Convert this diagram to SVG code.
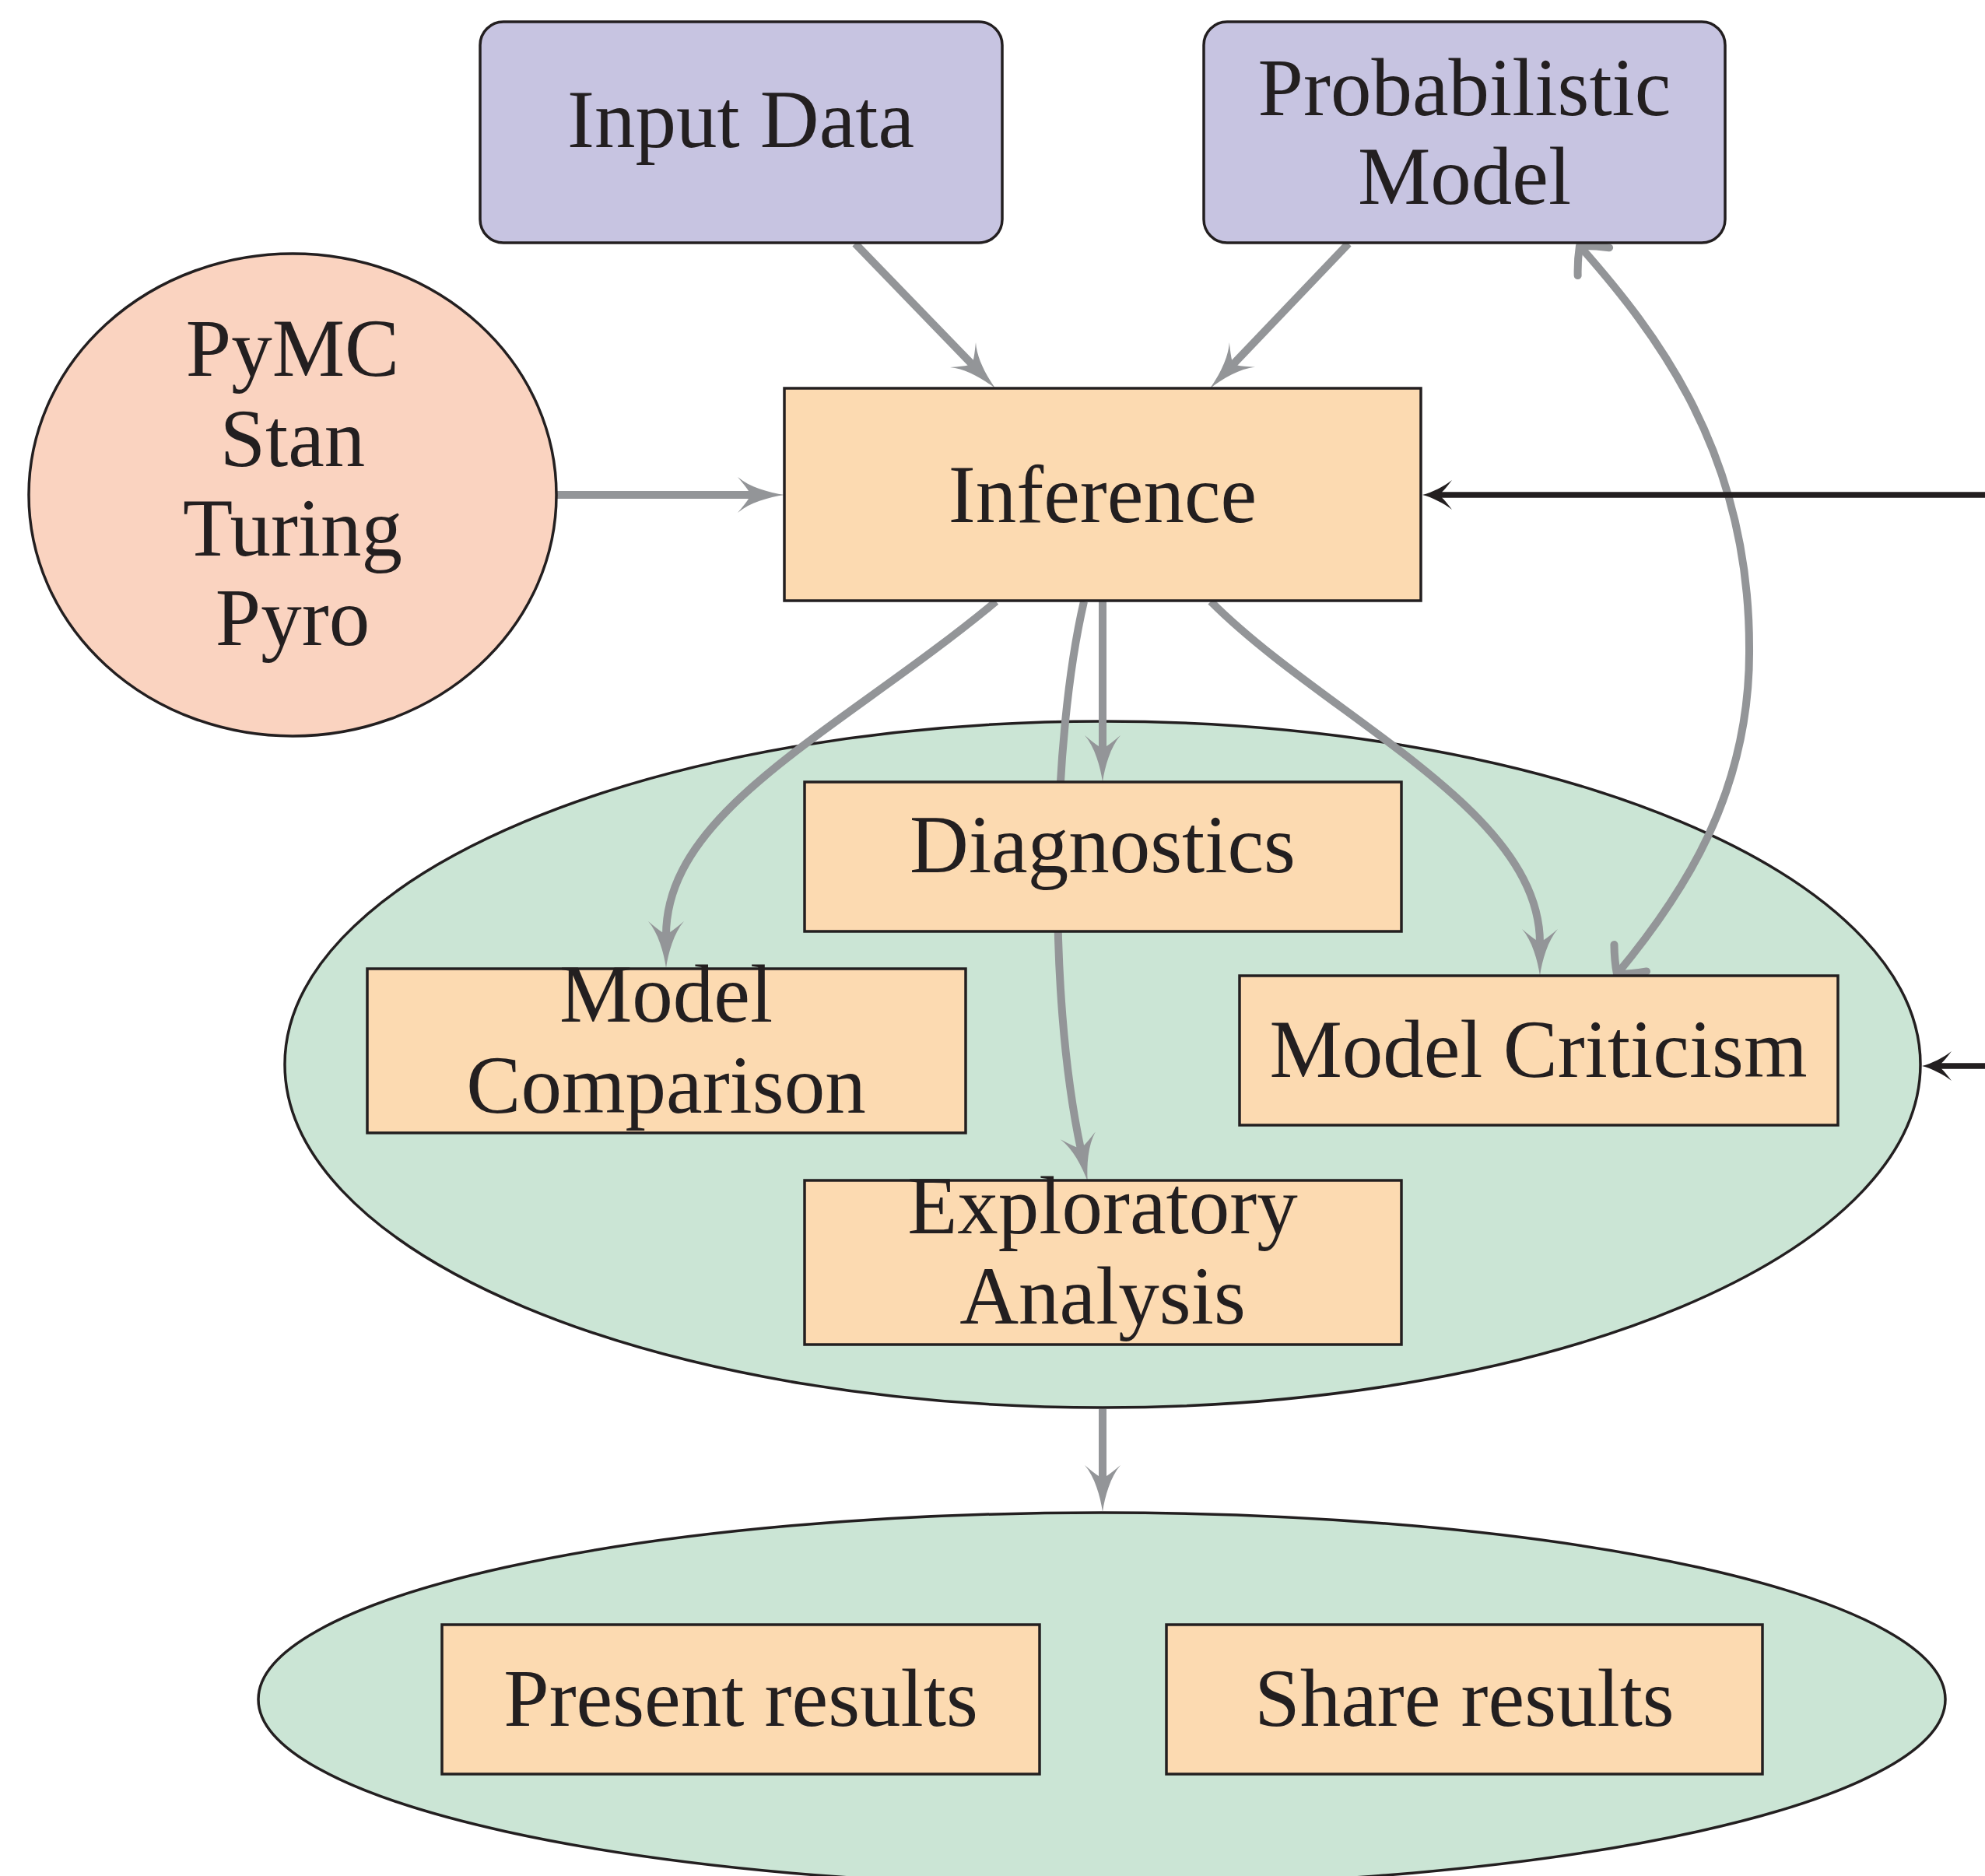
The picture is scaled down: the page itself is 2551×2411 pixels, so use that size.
<svg xmlns="http://www.w3.org/2000/svg" width="2551" height="2411" viewBox="0 0 2551 2411">
  <style>
    .lbl { font-family: "Liberation Serif", "Times New Roman", serif; font-size: 105px; fill: #231f20; text-anchor: middle; }
    .model { fill: #c7c4e1; stroke: #231f20; stroke-width: 3.5; }
    .step { fill: #fcdab1; stroke: #231f20; stroke-width: 3.5; }
    .tool { fill: #fad3c0; stroke: #231f20; stroke-width: 3.5; }
    .stage { fill: #cbe5d5; stroke: #231f20; stroke-width: 3.5; }
    .flow { fill: none; stroke: #939598; stroke-width: 10; }
    .ext { fill: none; stroke: #231f20; stroke-width: 7.5; }
  </style>
  <defs>
    <!-- grey barbed arrow tip; path end sits 42px behind the tip -->
    <marker id="tipGrey" markerUnits="userSpaceOnUse" markerWidth="70" markerHeight="50" refX="-42" refY="0" orient="auto" overflow="visible">
      <path d="M0,0 C-20,-3 -45,-10 -60,-23 Q-49,-10 -46,-5 L-46,5 Q-49,10 -60,23 C-45,10 -20,3 0,0 Z" fill="#939598"/>
    </marker>
    <!-- black arrow tip for the incoming feedback lines -->
    <marker id="tipBlack" markerUnits="userSpaceOnUse" markerWidth="45" markerHeight="40" refX="-22" refY="0" orient="auto" overflow="visible">
      <path d="M0,0 C-12,-3 -28,-11 -38,-19 Q-29,-7 -25,-3.5 L-25,3.5 Q-29,7 -38,19 C-28,11 -12,3 0,0 Z" fill="#231f20"/>
    </marker>
    <!-- open hook-style tip used at both ends of the criticism loop -->
    <marker id="tipHook" markerUnits="userSpaceOnUse" markerWidth="40" markerHeight="60" refX="0" refY="0" orient="auto-start-reverse" overflow="visible">
      <path d="M-27,-27 C-14,-16 -5,-6 0,0 C-5,6 -14,16 -27,27" fill="none" stroke="#939598" stroke-width="10" stroke-linecap="round" stroke-linejoin="round"/>
    </marker>
  </defs>

  <!-- stage containers -->
  <g id="analysis-stage">
    <ellipse class="stage" cx="1417" cy="1368" rx="1051" ry="441"/>
  </g>
  <g id="results-stage">
    <ellipse class="stage" cx="1416" cy="2184" rx="1084" ry="240"/>
  </g>

  <!-- connectors -->
  <g id="connectors">
    <path class="flow" d="M716 636 L966 636" marker-end="url(#tipGrey)"/>
    <path class="flow" d="M1099 313 L1250 469" marker-end="url(#tipGrey)"/>
    <path class="flow" d="M1733 313 L1584 469" marker-end="url(#tipGrey)"/>
    <path class="flow" d="M1280 773 C1080 939 856 1040 856 1202" marker-end="url(#tipGrey)"/>
    <path class="flow" d="M1393 773 C1352 950 1345 1270 1389 1477" marker-end="url(#tipGrey)"/>
    <path class="flow" d="M1417 773 L1417 963" marker-end="url(#tipGrey)"/>
    <path class="flow" d="M1556 773 C1706 923 1979 1040 1979 1212" marker-end="url(#tipGrey)"/>
    <path class="flow" d="M1417 1811 L1417 1901" marker-end="url(#tipGrey)"/>
    <path class="flow" d="M2030 316 C2129 428 2248 582 2248 832 C2250 1020 2161 1152 2078 1252" marker-start="url(#tipHook)" marker-end="url(#tipHook)"/>
    <path class="ext" d="M2551 636 L1850 636" marker-end="url(#tipBlack)"/>
    <path class="ext" d="M2551 1370 L2492 1370" marker-end="url(#tipBlack)"/>
  </g>

  <!-- nodes -->
  <g id="input-data">
    <rect class="model" x="617" y="28" width="671" height="284" rx="30"/>
    <text class="lbl" x="952" y="189">Input Data</text>
  </g>
  <g id="probabilistic-model">
    <rect class="model" x="1547" y="28" width="670" height="284" rx="30"/>
    <text class="lbl" x="1882" y="148">Probabilistic</text>
    <text class="lbl" x="1882" y="262">Model</text>
  </g>
  <g id="ppl-tools">
    <ellipse class="tool" cx="376" cy="636" rx="339" ry="310"/>
    <text class="lbl" x="376" y="483">PyMC</text>
    <text class="lbl" x="376" y="599">Stan</text>
    <text class="lbl" x="376" y="714">Turing</text>
    <text class="lbl" x="376" y="829">Pyro</text>
  </g>
  <g id="inference">
    <rect class="step" x="1008" y="499" width="818" height="273"/>
    <text class="lbl" x="1417" y="671">Inference</text>
  </g>
  <g id="diagnostics">
    <rect class="step" x="1034" y="1005" width="767" height="192"/>
    <text class="lbl" x="1417" y="1121">Diagnostics</text>
  </g>
  <g id="model-comparison">
    <rect class="step" x="472" y="1245" width="769" height="211"/>
    <text class="lbl" x="856" y="1313">Model</text>
    <text class="lbl" x="856" y="1430">Comparison</text>
  </g>
  <g id="model-criticism">
    <rect class="step" x="1593" y="1254" width="769" height="192"/>
    <text class="lbl" x="1977" y="1384">Model Criticism</text>
  </g>
  <g id="exploratory-analysis">
    <rect class="step" x="1034" y="1517" width="767" height="211"/>
    <text class="lbl" x="1417" y="1585">Exploratory</text>
    <text class="lbl" x="1417" y="1701">Analysis</text>
  </g>
  <g id="present-results">
    <rect class="step" x="568" y="2088" width="768" height="192"/>
    <text class="lbl" x="952" y="2218">Present results</text>
  </g>
  <g id="share-results">
    <rect class="step" x="1499" y="2088" width="766" height="192"/>
    <text class="lbl" x="1882" y="2218">Share results</text>
  </g>
</svg>
